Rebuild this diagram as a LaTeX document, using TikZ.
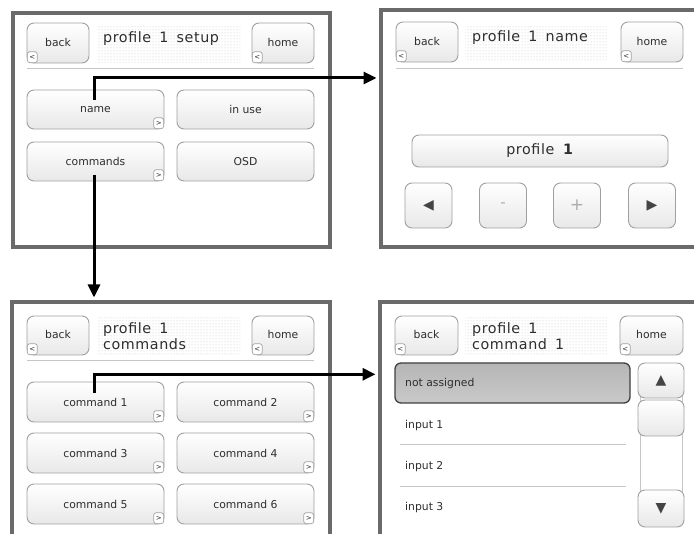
\documentclass[tikz,border=0pt]{standalone}
\usepackage{fontspec}
\setmainfont{DejaVu Sans}
\newfontfamily\tfont[LetterSpace=4,WordSpace=1.6]{DejaVu Sans}
\usetikzlibrary{arrows.meta,patterns,calc}

\definecolor{framec}{HTML}{6A6A6A}
\definecolor{btnedge}{HTML}{A0A0A0}
\definecolor{txt}{HTML}{2E2E2E}
\definecolor{glyph}{HTML}{444444}

\tikzset{
  panel/.style={draw=framec, line width=4pt, fill=white},
  btn/.style={draw=btnedge, line width=0.9pt, rounded corners=7pt,
    top color=white, bottom color=gray!18, inner sep=0pt,
    font=\fontsize{10.8}{13}\selectfont, text=txt},
  tabbox/.style={draw=btnedge, line width=0.7pt, rounded corners=2.5pt, fill=white,
    minimum width=10pt, minimum height=11pt, inner sep=0pt,
    font=\fontsize{7}{7}\selectfont, text=txt},
  ttl/.style={font=\tfont\fontsize{14.3}{16}\selectfont, text=txt, inner sep=0pt},
  sepline/.style={draw=gray!45, line width=0.8pt},
  listtxt/.style={font=\fontsize{10.8}{13}\selectfont, text=txt, inner sep=0pt, anchor=base west},
  conn/.style={draw=black, line width=3pt, -{Triangle[length=13pt,width=12pt]}},
  dotsbg/.style={pattern=dots, pattern color=gray!45},
  glyphtxt/.style={font=\fontsize{14}{14}\selectfont, text=glyph, inner sep=0pt},
}
\newcommand\ltab[1]{\node[tabbox, anchor=south west] (#1lt) at ([shift={(0.4pt,0.4pt)}]#1.south west) {<};}
\newcommand\rtab[1]{\node[tabbox, anchor=south east] (#1rt) at ([shift={(-0.4pt,0.4pt)}]#1.south east) {>};}

\begin{document}
\begin{tikzpicture}[x=1pt,y=-1pt]
\useasboundingbox (0,0) rectangle (694,534);
\clip (0,0) rectangle (694,534);
\fill[white] (0,0) rectangle (694,534);

% ---------- panels ----------
\node[panel, minimum width=317pt, minimum height=234pt] (p1) at (171.5,130) {};
\node[panel, minimum width=319pt, minimum height=237pt] (p2) at (540.5,128.5) {};
\node[panel, minimum width=318pt, minimum height=243pt] (p3) at (171,423.5) {};
\node[panel, minimum width=320pt, minimum height=243pt] (p4) at (540,423.5) {};

% ---------- panel 1 : profile 1 setup ----------
\fill[dotsbg] (97,26) rectangle (240,63);
\node[btn, minimum width=62pt, minimum height=40pt] (p1back) at (58,43) {\raisebox{2pt}{back}};
\ltab{p1back}
\node[btn, minimum width=62pt, minimum height=40pt] (p1home) at (283,43) {\raisebox{2pt}{home}};
\ltab{p1home}
\node[ttl, anchor=base west] (p1title) at (103,43) {profile 1 setup};
\draw[sepline] (27,68) -- (314,68);
\node[btn, minimum width=137pt, minimum height=39pt] (p1name) at (95.5,109.5) {name};
\rtab{p1name}
\node[btn, minimum width=137pt, minimum height=39pt] (p1inuse) at (245.5,109.5) {in use};
\node[btn, minimum width=137pt, minimum height=39pt] (p1cmds) at (95.5,161.5) {commands};
\rtab{p1cmds}
\node[btn, minimum width=137pt, minimum height=39pt] (p1osd) at (245.5,161.5) {OSD};

% ---------- panel 2 : profile 1 name ----------
\fill[dotsbg] (465,25) rectangle (608,62);
\node[btn, minimum width=62pt, minimum height=40pt] (p2back) at (427,42) {\raisebox{2pt}{back}};
\ltab{p2back}
\node[btn, minimum width=62pt, minimum height=40pt] (p2home) at (652,42) {\raisebox{2pt}{home}};
\ltab{p2home}
\node[ttl, anchor=base west] (p2title) at (472,42) {profile 1 name};
\draw[sepline] (396,68) -- (683,68);
\node[btn, minimum width=256pt, minimum height=32pt, font=\tfont\fontsize{14.3}{16}\selectfont] (p2field) at (540,151) {profile \textbf{1}};
\node[btn, minimum width=47pt, minimum height=45pt] (p2left) at (428.5,205.5) {};
\node[glyphtxt] (p2lg) at (p2left.center) {◀};
\node[btn, minimum width=47pt, minimum height=45pt] (p2minus) at (503,205.5) {};
\node[glyphtxt, text=gray!65, font=\fontsize{15}{15}\selectfont] (p2mg) at (p2minus.center) {-};
\node[btn, minimum width=47pt, minimum height=45pt] (p2plus) at (577,205.5) {};
\node[glyphtxt, text=gray!65, font=\fontsize{17}{17}\selectfont] (p2pg) at (p2plus.center) {+};
\node[btn, minimum width=47pt, minimum height=45pt] (p2right) at (652,205.5) {};
\node[glyphtxt] (p2rg) at (p2right.center) {▶};

% ---------- panel 3 : profile 1 commands ----------
\fill[dotsbg] (97,318) rectangle (240,356);
\node[btn, minimum width=62pt, minimum height=39pt] (p3back) at (58,335.5) {\raisebox{2pt}{back}};
\ltab{p3back}
\node[btn, minimum width=62pt, minimum height=39pt] (p3home) at (283,335.5) {\raisebox{2pt}{home}};
\ltab{p3home}
\node[ttl, anchor=base west] (p3t1) at (103,334) {profile 1};
\node[ttl, anchor=base west] (p3t2) at (103,350) {commands};
\draw[sepline] (27,360) -- (314,360);
\node[btn, minimum width=137pt, minimum height=40pt] (c1) at (95.5,402) {command 1};
\rtab{c1}
\node[btn, minimum width=137pt, minimum height=40pt] (c2) at (245.5,402) {command 2};
\rtab{c2}
\node[btn, minimum width=137pt, minimum height=40pt] (c3) at (95.5,453) {command 3};
\rtab{c3}
\node[btn, minimum width=137pt, minimum height=40pt] (c4) at (245.5,453) {command 4};
\rtab{c4}
\node[btn, minimum width=137pt, minimum height=40pt] (c5) at (95.5,504) {command 5};
\rtab{c5}
\node[btn, minimum width=137pt, minimum height=40pt] (c6) at (245.5,504) {command 6};
\rtab{c6}

% ---------- panel 4 : profile 1 command 1 ----------
\fill[dotsbg] (465,318) rectangle (608,356);
\node[btn, minimum width=63pt, minimum height=39pt] (p4back) at (426.5,335.5) {\raisebox{2pt}{back}};
\ltab{p4back}
\node[btn, minimum width=63pt, minimum height=39pt] (p4home) at (651.5,335.5) {\raisebox{2pt}{home}};
\ltab{p4home}
\node[ttl, anchor=base west] (p4t1) at (472,334) {profile 1};
\node[ttl, anchor=base west] (p4t2) at (472,350) {command 1};
\node[draw=black!75, line width=1.3pt, rounded corners=6pt, top color=gray!58, bottom color=gray!42,
      minimum width=235pt, minimum height=40pt, inner sep=0pt] (nabar) at (512.5,383) {};
\node[listtxt] (natext) at (405,387) {not assigned};
\node[listtxt] (in1) at (405,429) {input 1};
\draw[sepline] (400,444) -- (626,444);
\node[listtxt] (in2) at (405,470) {input 2};
\draw[sepline] (400,486) -- (626,486);
\node[listtxt] (in3) at (405,511) {input 3};
% scrollbar
\draw[draw=gray!45, line width=0.8pt] (640,396) -- (640,492) (682,396) -- (682,492);
\node[btn, minimum width=46pt, minimum height=35pt] (sup) at (661,380.5) {};
\node[glyphtxt] (supg) at (sup.center) {▲};
\node[btn, minimum width=46pt, minimum height=36pt] (sthumb) at (661,418) {};
\node[btn, minimum width=46pt, minimum height=37pt] (sdown) at (661,508.5) {};
\node[glyphtxt] (sdowng) at (sdown.center) {▼};

% ---------- connectors ----------
\coordinate (s1) at (94,100);
\coordinate (k1) at (94,78);
\draw[conn, shorten >=2.5pt] (s1) -- (k1) -- (k1 -| p2.west);
\coordinate (s2) at (94,175);
\draw[conn, shorten >=2.5pt] (s2) -- (s2 |- p3.north);
\coordinate (s3) at (94,393);
\coordinate (k3) at (94,374.3);
\draw[conn, shorten >=2.5pt] (s3) -- (k3) -- (k3 -| p4.west);
\end{tikzpicture}
\end{document}
